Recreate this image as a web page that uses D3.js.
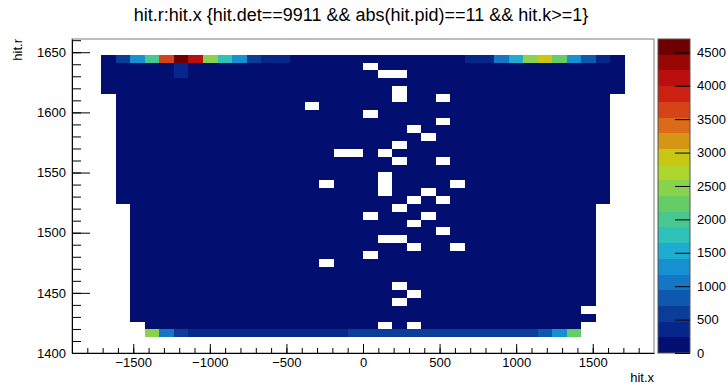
<!DOCTYPE html>
<html>
<head>
<meta charset="utf-8">
<script src="https://cdn.jsdelivr.net/npm/d3@7"></script>
<style>
  body { margin: 0; background: #fff; }
  svg text { font-family: "Liberation Sans", Arial, Helvetica, sans-serif; }
</style>
</head>
<body>
<svg id="chart" width="727" height="386"></svg>
<script>
// histogram binning (40 x 40, as TTree::Draw gives by default)
const xRange = [-1900, 1900];
const yRange = [1400, 1661];
const nBinsX = 40;
const nBinsY = 40;
const zMax = 4700;

// filled column span of every row, row 0 = top (highest hit.r)
const rowSpans = [
  null, null,
  [2, 37], [2, 37], [2, 37], [2, 37], [2, 37],
  [3, 36], [3, 36], [3, 36], [3, 36], [3, 36], [3, 36], [3, 36],
  [3, 36], [3, 36], [3, 36], [3, 36], [3, 36], [3, 36], [3, 36],
  [4, 35], [4, 35], [4, 35], [4, 35], [4, 35], [4, 35], [4, 35], [4, 35],
  [4, 35], [4, 35], [4, 35], [4, 35], [4, 35], [4, 35], [4, 35],
  [5, 34], [5, 34],
  null, null
];

// empty bins inside the body: [row, col]
const holes = [
  [3, 20], [4, 21], [4, 22], [6, 22], [7, 22], [7, 25], [8, 16], [9, 20],
  [10, 25], [11, 23], [12, 24], [13, 22], [14, 18], [14, 19], [14, 21],
  [15, 22], [15, 25], [17, 21], [18, 17], [18, 21], [18, 26], [19, 21],
  [19, 24], [20, 23], [20, 25], [21, 22], [22, 20], [22, 24], [23, 23],
  [24, 25], [25, 21], [25, 22], [26, 23], [26, 26], [27, 20], [28, 17],
  [31, 22], [32, 23], [33, 22], [34, 35], [36, 21], [36, 23]
];

// top row (row 2), cols 2..37
const topRowCounts = [
  150, 560, 1380, 2000, 3600, 4580, 4100, 2450, 1750, 1250, 600, 350, 330,
  180, 160, 150, 140, 130, 140, 150, 140, 150, 160, 180, 200,
  300, 380, 950, 1450, 2380, 2950, 2200, 1400, 800, 450, 150
];

// bottom row (row 37), cols 5..34
const bottomRowCounts = [
  2400, 1000, 650,
  400, 380, 370, 360, 350, 340, 350, 360, 380, 400, 420,
  520, 540, 560, 560, 570, 560, 550, 560, 570, 580, 600, 620, 650,
  800, 1300, 2200
];

// a couple of slightly fuller bins below the top row: [row, col, count]
const hotCells = [[3, 7, 300], [4, 7, 320]];

// all other filled bins sit in the lowest colour band
const bulkCount = 110;

const xMajorTicks = [-1500, -1000, -500, 0, 500, 1000, 1500];
const yMajorTicks = [1400, 1450, 1500, 1550, 1600, 1650];
const zTicks = [0, 500, 1000, 1500, 2000, 2500, 3000, 3500, 4000, 4500];

// 20 contour colours, low -> high
const bandColors = [
  "#020f70", "#06268a", "#0a3c98", "#0e58b0", "#1476c4",
  "#1690d0", "#1eacd0", "#2ec2b8", "#48c890", "#66cc66",
  "#88d24c", "#aed62c", "#c8c814", "#d49614", "#dc6a1a",
  "#d44418", "#cc2010", "#bb0e0e", "#990606", "#700000"
];

const title = "hit.r:hit.x {hit.det==9911 && abs(hit.pid)==11 && hit.k>=1}";

const frame = { left: 72, right: 654, top: 39, bottom: 353 };
const pal = { left: 658, right: 690 };

const $svg = d3.select("#chart");

const x = d3.scaleLinear().domain(xRange).range([frame.left, frame.right]);
const y = d3.scaleLinear().domain(yRange).range([frame.bottom, frame.top]);
const z = d3.scaleLinear().domain([0, zMax]).range([frame.bottom, frame.top]);
const color = d3.scaleQuantize().domain([0, zMax]).range(bandColors);

const dx = (xRange[1] - xRange[0]) / nBinsX;
const dy = (yRange[1] - yRange[0]) / nBinsY;

// build bins
const isHole = new Set(holes.map(d => d[0] + ":" + d[1]));
const hot = new Map(hotCells.map(d => [d[0] + ":" + d[1], d[2]]));
const cells = [];
rowSpans.forEach((span, row) => {
  if (!span) return;
  for (let col = span[0]; col <= span[1]; col++) {
    const key = row + ":" + col;
    if (isHole.has(key)) continue;
    let count = bulkCount;
    if (row === 2) count = topRowCounts[col - span[0]];
    else if (row === 37) count = bottomRowCounts[col - span[0]];
    else if (hot.has(key)) count = hot.get(key);
    const ybin = nBinsY - 1 - row;
    cells.push({
      x0: xRange[0] + col * dx,
      x1: xRange[0] + (col + 1) * dx,
      y0: yRange[0] + ybin * dy,
      y1: yRange[0] + (ybin + 1) * dy,
      count
    });
  }
});

// cells
$svg.append("g")
  .selectAll("rect")
  .data(cells)
  .join("rect")
    .attr("x", d => Math.round(x(d.x0)))
    .attr("y", d => Math.round(y(d.y1)))
    .attr("width", d => Math.round(x(d.x1)) - Math.round(x(d.x0)))
    .attr("height", d => Math.round(y(d.y0)) - Math.round(y(d.y1)))
    .attr("fill", d => color(d.count))
    .attr("shape-rendering", "crispEdges");

// frame
$svg.append("rect")
  .attr("x", frame.left)
  .attr("y", frame.top)
  .attr("width", frame.right - frame.left)
  .attr("height", frame.bottom - frame.top)
  .attr("fill", "none")
  .attr("stroke", "#7a7a7a")
  .attr("stroke-width", 1);

function styleAxis(g) {
  g.attr("font-size", 13)
   .attr("font-family", "'Liberation Sans', Arial, sans-serif");
  g.selectAll("line").attr("stroke", "#000");
  g.selectAll("path").attr("stroke", "#000");
  g.selectAll("text").attr("fill", "#000");
}

// x axis
const $xAxis = $svg.append("g").attr("transform", `translate(0,${frame.bottom})`);
$xAxis.append("g")
  .call(d3.axisBottom(x).tickValues(d3.range(-1800, 1801, 100))
    .tickSize(-5).tickSizeOuter(0).tickFormat(""))
  .call(styleAxis);
$xAxis.append("g")
  .call(d3.axisBottom(x).tickValues(xMajorTicks)
    .tickSize(-9).tickSizeOuter(0).tickPadding(5).tickFormat(d3.format("d")))
  .call(styleAxis)
  .call(g => g.select(".domain").remove());

// y axis
const $yAxis = $svg.append("g").attr("transform", `translate(${frame.left},0)`);
$yAxis.append("g")
  .call(d3.axisLeft(y).tickValues(d3.range(1400, 1661, 10))
    .tickSize(-9).tickSizeOuter(0).tickFormat(""))
  .call(styleAxis);
$yAxis.append("g")
  .call(d3.axisLeft(y).tickValues(yMajorTicks)
    .tickSize(-18).tickSizeOuter(0).tickPadding(6).tickFormat(d3.format("d")))
  .call(styleAxis)
  .call(g => g.select(".domain").remove());

// palette
const bandStep = zMax / bandColors.length;
$svg.append("g")
  .selectAll("rect")
  .data(bandColors)
  .join("rect")
    .attr("x", pal.left)
    .attr("width", pal.right - pal.left)
    .attr("y", (d, i) => Math.round(z((i + 1) * bandStep)))
    .attr("height", (d, i) => Math.round(z(i * bandStep)) - Math.round(z((i + 1) * bandStep)))
    .attr("fill", d => d)
    .attr("shape-rendering", "crispEdges");

$svg.append("rect")
  .attr("x", pal.left)
  .attr("y", frame.top)
  .attr("width", pal.right - pal.left)
  .attr("height", frame.bottom - frame.top)
  .attr("fill", "none")
  .attr("stroke", "#555");

$svg.append("g")
  .attr("transform", `translate(${pal.right},0)`)
  .call(d3.axisRight(z).tickValues(zTicks)
    .tickSize(-15).tickSizeOuter(0).tickPadding(7).tickFormat(d3.format("d")))
  .call(styleAxis)
  .call(g => g.select(".domain").remove());

// texts
$svg.append("text")
  .attr("x", 361)
  .attr("y", 21)
  .attr("text-anchor", "middle")
  .attr("font-size", 18)
  .text(title);

$svg.append("text")
  .attr("x", frame.right)
  .attr("y", 382)
  .attr("text-anchor", "end")
  .attr("font-size", 13)
  .text("hit.x");

$svg.append("text")
  .attr("transform", `translate(22,${frame.top}) rotate(-90)`)
  .attr("text-anchor", "end")
  .attr("font-size", 13)
  .text("hit.r");
</script>
</body>
</html>
